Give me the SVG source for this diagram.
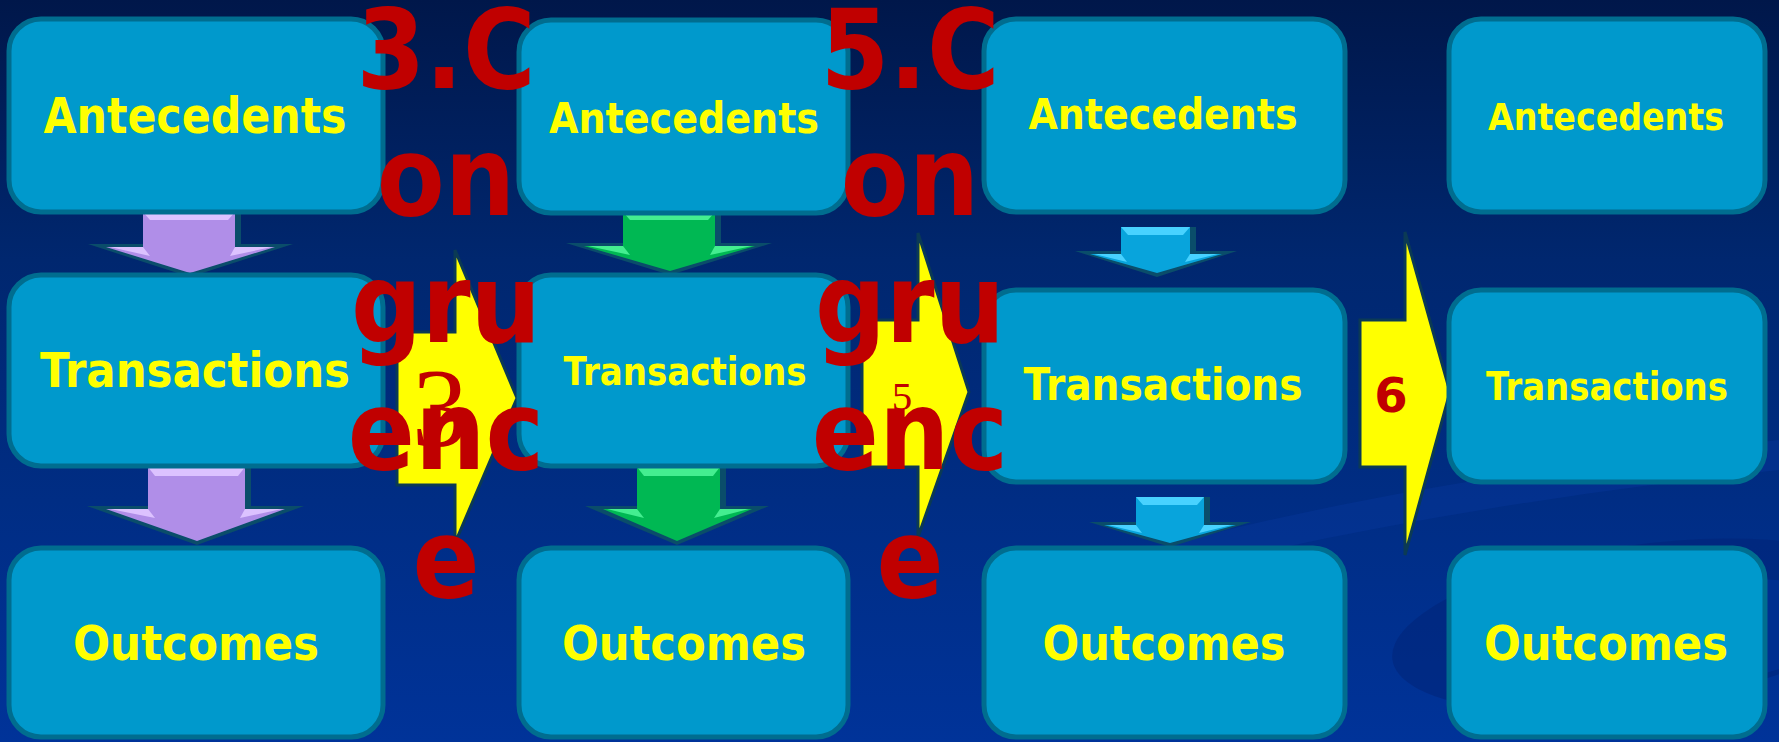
<svg xmlns="http://www.w3.org/2000/svg" width="1779" height="742" viewBox="0 0 1779 742">
<defs>
<linearGradient id="bg" x1="0" y1="0" x2="0" y2="1">
<stop offset="0" stop-color="#00174a"/>
<stop offset="0.35" stop-color="#00276f"/>
<stop offset="1" stop-color="#003399"/>
</linearGradient>
<style>
.box{fill:#0099cc;stroke:#006d8f;stroke-width:5}
.lbl{font-family:"DejaVu Sans","Liberation Sans",sans-serif;font-weight:bold;fill:#ffff00;text-anchor:middle}
.big{font-family:"DejaVu Sans Condensed","DejaVu Sans",sans-serif;font-stretch:condensed;font-weight:bold;fill:#c00000;text-anchor:middle;font-size:110px}
.yarrow{fill:#ffff00;stroke:#0b3a55;stroke-width:3;stroke-linejoin:miter}
.dk{fill:#0a4d6a}
.pu{fill:#b08ee8}.puh{fill:#dcc2ff}
.gr{fill:#00b853}.grh{fill:#44ee90}
.bl{fill:#08a4dc}.blh{fill:#48d2ff}
</style>
</defs>
<rect width="1779" height="742" fill="url(#bg)"/>
<path d="M1000,600 C1200,520 1500,470 1779,440 L1779,470 C1500,500 1250,545 1000,620 Z" fill="#0a3aa0" opacity="0.35"/>
<ellipse cx="1640" cy="625" rx="250" ry="80" transform="rotate(-8 1640 625)" fill="#002578" opacity="0.55"/>
<ellipse cx="1660" cy="640" rx="200" ry="55" transform="rotate(-8 1660 640)" fill="#003399" opacity="0.6"/>

<g id="connectors">
<!-- purple down arrows -->
<g id="down-p1">
<polygon class="dk" points="143,212 241,212 241,244 293,244 190,277 88,244 143,244"/>
<polygon class="pu" points="143,212 235,212 235,247 275,247 190,273 106,247 143,247"/>
<polygon class="puh" points="143,212 235,212 228,220 150,220"/>
<polygon class="puh" points="143,247 110,247 150,256"/>
<polygon class="puh" points="235,247 272,247 230,256"/>
</g>
<g id="down-p2">
<polygon class="dk" points="148,467 251,467 251,506 304,506 197,545 87,506 148,506"/>
<polygon class="pu" points="148,467 245,467 245,509 285,509 197,541 106,509 148,509"/>
<polygon class="puh" points="148,467 245,467 238,476 155,476"/>
<polygon class="puh" points="148,509 110,509 155,518"/>
<polygon class="puh" points="245,509 282,509 240,518"/>
</g>
<!-- green down arrows -->
<g id="down-g1">
<polygon class="dk" points="623,212 721,212 721,243 772,243 670,275 566,243 623,243"/>
<polygon class="gr" points="623,212 715,212 715,246 755,246 670,271 584,246 623,246"/>
<polygon class="grh" points="623,212 715,212 708,220 630,220"/>
<polygon class="grh" points="623,246 588,246 630,255"/>
<polygon class="grh" points="715,246 752,246 710,255"/>
</g>
<g id="down-g2">
<polygon class="dk" points="637,467 726,467 726,506 769,506 677,545 585,506 637,506"/>
<polygon class="gr" points="637,467 720,467 720,509 752,509 677,541 603,509 637,509"/>
<polygon class="grh" points="637,467 720,467 713,476 644,476"/>
<polygon class="grh" points="637,509 607,509 644,518"/>
<polygon class="grh" points="720,509 749,509 714,518"/>
</g>
<!-- blue down arrows -->
<g id="down-b1">
<polygon class="dk" points="1121,227 1196,227 1196,251 1237,251 1157,277 1075,251 1121,251"/>
<polygon class="bl" points="1121,227 1190,227 1190,254 1222,254 1157,273 1090,254 1121,254"/>
<polygon class="blh" points="1121,227 1190,227 1183,235 1128,235"/>
<polygon class="blh" points="1121,254 1094,254 1127,262"/>
<polygon class="blh" points="1190,254 1218,254 1185,262"/>
</g>
<g id="down-b2">
<polygon class="dk" points="1136,497 1210,497 1210,522 1251,522 1170,547 1089,522 1136,522"/>
<polygon class="bl" points="1136,497 1204,497 1204,525 1236,525 1170,543 1104,525 1136,525"/>
<polygon class="blh" points="1136,497 1204,497 1197,505 1143,505"/>
<polygon class="blh" points="1136,525 1108,525 1142,533"/>
<polygon class="blh" points="1204,525 1232,525 1199,533"/>
</g>
<!-- yellow right arrows -->
<polygon id="right-3" class="yarrow" points="397,332 455,332 455,250 517,398 455,543 455,485 397,485"/>
<polygon id="right-5" class="yarrow" points="862,320 918,320 918,233 969,392 918,537 918,467 862,467"/>
<polygon id="right-6" class="yarrow" points="1360,320 1405,320 1405,232 1450,392 1405,555 1405,467 1360,467"/>
</g>

<g id="c1-antecedents"><rect class="box" x="9" y="19" width="374" height="193" rx="32"/><text class="lbl" x="195" y="133" font-size="49" textLength="303" lengthAdjust="spacingAndGlyphs">Antecedents</text></g>
<g id="c1-transactions"><rect class="box" x="9" y="275" width="374" height="191" rx="32"/><text class="lbl" x="195" y="387" font-size="48" textLength="310" lengthAdjust="spacingAndGlyphs">Transactions</text></g>
<g id="c1-outcomes"><rect class="box" x="9" y="548" width="374" height="189" rx="32"/><text class="lbl" x="196" y="660" font-size="48" textLength="246" lengthAdjust="spacingAndGlyphs">Outcomes</text></g>

<g id="c2-antecedents"><rect class="box" x="519" y="20" width="329" height="193" rx="32"/><text class="lbl" x="684" y="133" font-size="42" textLength="270" lengthAdjust="spacingAndGlyphs">Antecedents</text></g>
<g id="c2-transactions"><rect class="box" x="519" y="275" width="329" height="191" rx="32"/><text class="lbl" x="685" y="385" font-size="39" textLength="243" lengthAdjust="spacingAndGlyphs">Transactions</text></g>
<g id="c2-outcomes"><rect class="box" x="519" y="548" width="329" height="189" rx="32"/><text class="lbl" x="684" y="660" font-size="48" textLength="244" lengthAdjust="spacingAndGlyphs">Outcomes</text></g>

<g id="c3-antecedents"><rect class="box" x="984" y="19" width="361" height="193" rx="32"/><text class="lbl" x="1163" y="129" font-size="43" textLength="269" lengthAdjust="spacingAndGlyphs">Antecedents</text></g>
<g id="c3-transactions"><rect class="box" x="984" y="290" width="361" height="192" rx="32"/><text class="lbl" x="1163" y="400" font-size="44" textLength="279" lengthAdjust="spacingAndGlyphs">Transactions</text></g>
<g id="c3-outcomes"><rect class="box" x="984" y="548" width="361" height="189" rx="32"/><text class="lbl" x="1164" y="660" font-size="48" textLength="243" lengthAdjust="spacingAndGlyphs">Outcomes</text></g>

<g id="c4-antecedents"><rect class="box" x="1449" y="19" width="316" height="193" rx="32"/><text class="lbl" x="1606" y="130" font-size="38" textLength="236" lengthAdjust="spacingAndGlyphs">Antecedents</text></g>
<g id="c4-transactions"><rect class="box" x="1449" y="290" width="316" height="192" rx="32"/><text class="lbl" x="1607" y="400" font-size="39" textLength="242" lengthAdjust="spacingAndGlyphs">Transactions</text></g>
<g id="c4-outcomes"><rect class="box" x="1449" y="548" width="316" height="189" rx="32"/><text class="lbl" x="1606" y="660" font-size="48" textLength="244" lengthAdjust="spacingAndGlyphs">Outcomes</text></g>

<g id="label-3">
<text x="440" y="446" font-family="'Liberation Serif',serif" font-size="112" fill="#c00000" text-anchor="middle">3</text>
<text class="big" x="446" y="88">3.C</text>
<text class="big" x="446" y="215">on</text>
<text class="big" x="446" y="342">gru</text>
<text class="big" x="446" y="469">enc</text>
<text class="big" x="446" y="597">e</text>
</g>
<g id="label-5">
<text x="902" y="410" font-family="'Liberation Serif',serif" font-size="41" fill="#c00000" text-anchor="middle">5</text>
<text class="big" x="910" y="88">5.C</text>
<text class="big" x="910" y="215">on</text>
<text class="big" x="910" y="342">gru</text>
<text class="big" x="910" y="469">enc</text>
<text class="big" x="910" y="597">e</text>
</g>
<g id="label-6">
<text x="1391" y="412" font-family="'DejaVu Sans',sans-serif" font-weight="bold" font-size="48" fill="#c00000" text-anchor="middle">6</text>
</g>
</svg>
